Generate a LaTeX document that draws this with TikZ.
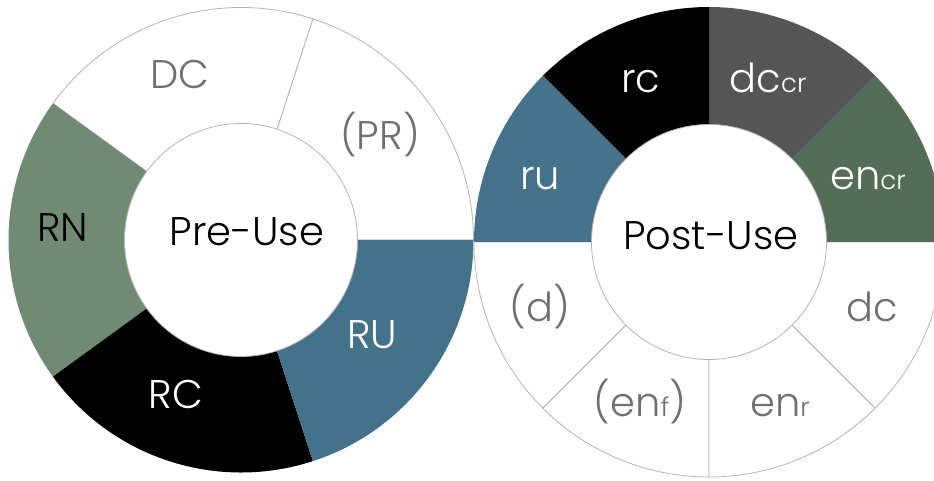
\documentclass[tikz,border=0pt]{standalone}
\usepackage{fontspec}
\setmainfont{Poppins Light}
\usetikzlibrary{calc}
\definecolor{segblue}{HTML}{45728B}
\definecolor{sagegreen}{HTML}{718B73}
\definecolor{darkgreen}{HTML}{546E56}
\definecolor{darkgrey}{HTML}{555555}
\definecolor{edgegrey}{HTML}{B4B4B4}
\definecolor{labelgrey}{HTML}{707070}
\newcommand\smtxt[1]{{\fontsize{26}{26}\selectfont #1}}
% wedge: centre x, centre y, start, end, radius, style
\newcommand\donutwedge[6]{%
  \path[#6] (#1,#2) -- ($(#1,#2)+(#3:#5)$) arc[start angle=#3,end angle=#4,radius=#5] -- cycle;}
\begin{document}
\begin{tikzpicture}[x=1pt,y=1pt,
  whiteseg/.style={fill=white,draw=edgegrey,line width=0.8pt},
  colseg/.style={fill=#1},
  hole/.style={fill=white,draw=edgegrey,line width=0.8pt},
  lab/.style={anchor=base,inner sep=0pt,font=\fontsize{40}{40}\selectfont,text=labelgrey},
  labw/.style={lab,text=white},
  labk/.style={lab,text=black}]
\useasboundingbox (0,0) rectangle (934,481);
\clip (0,0) rectangle (934,481);
% ---------- left donut (Pre-Use) ----------
\donutwedge{241}{241}{0}{72}{232.5pt}{whiteseg}
\donutwedge{241}{241}{72}{144}{232.5pt}{whiteseg}
\donutwedge{241}{241}{144}{216}{232.5pt}{colseg=sagegreen}
\donutwedge{241}{241}{216}{288}{232.5pt}{colseg=black}
\donutwedge{241}{241}{288}{360}{232.5pt}{colseg=segblue}
\path[hole] (241,241) circle[radius=116.5pt];
% ---------- right donut (Post-Use) ----------
\donutwedge{709}{239}{180}{225}{235pt}{whiteseg}
\donutwedge{709}{239}{225}{270}{235pt}{whiteseg}
\donutwedge{709}{239}{270}{315}{235pt}{whiteseg}
\donutwedge{709}{239}{315}{360}{235pt}{whiteseg}
\donutwedge{709}{239}{0}{45}{235pt}{colseg=darkgreen}
\donutwedge{709}{239}{45}{90}{235pt}{colseg=darkgrey}
\donutwedge{709}{239}{90}{135}{235pt}{colseg=black}
\donutwedge{709}{239}{135}{180}{235pt}{colseg=segblue}
\path[hole] (709,239) circle[radius=117.5pt];
% ---------- labels left ----------
\node[labk] (preuse) at (247,235) {Pre-Use};
\node[lab]  (DC) at (180,392) {DC};
\node[lab]  (PR) at (380,331) {(PR)};
\node[labk] (RN) at (62.5,239) {RN};
\node[labw] (RC) at (176,72) {RC};
\node[labw] (RU) at (372,132) {RU};
% ---------- labels right ----------
\node[labk] (postuse) at (711,231) {Post-Use};
\node[labw] (rc) at (641,388) {rc};
\node[labw] (dccr) at (768,388) {dc\smtxt{cr}};
\node[labw] (ru) at (540,291) {ru};
\node[labw] (encr) at (868,291) {en\smtxt{cr}};
\node[lab]  (d) at (540,159) {(d)};
\node[lab]  (dc) at (872,159) {dc};
\node[lab]  (enf) at (640,64) {(en\smtxt{f})};
\node[lab]  (enr) at (780,64) {en\smtxt{r}};
\end{tikzpicture}
\end{document}
